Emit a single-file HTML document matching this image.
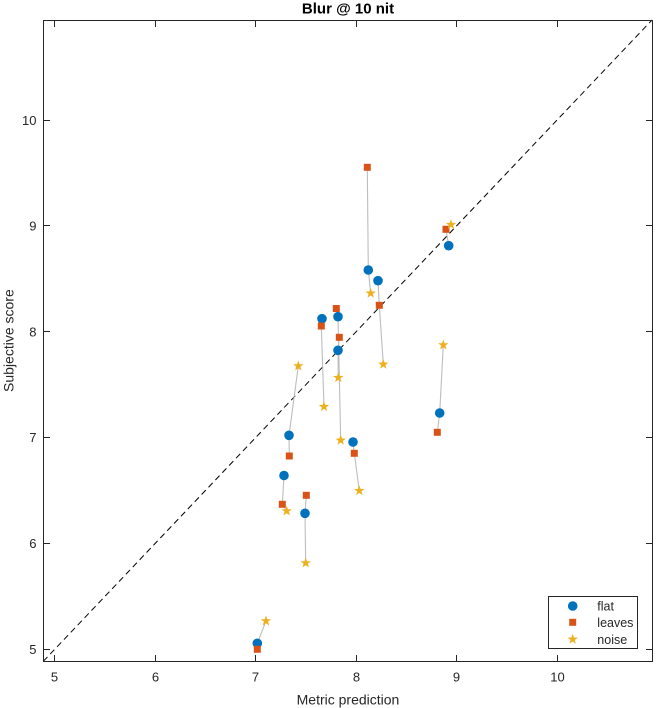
<!DOCTYPE html>
<html>
<head>
<meta charset="utf-8">
<style>
html,body{margin:0;padding:0;background:#fff;}
svg{display:block;}
text{font-family:"Liberation Sans",Arial,sans-serif;fill:#262626;}
</style>
</head>
<body>
<svg width="656" height="708" viewBox="0 0 656 708" xmlns="http://www.w3.org/2000/svg">
<rect x="0" y="0" width="656" height="708" fill="#fff"/>

<!-- dashed identity line -->
<line x1="43.3" y1="661.3" x2="652" y2="20" stroke="#000" stroke-width="1" stroke-dasharray="6,4"/>

<!-- connecting gray lines -->
<g stroke="#bdbdbd" stroke-width="1.1" fill="none">
<polyline points="322,318.7 321.3,326 324,406.7"/>
<polyline points="336.3,308.5 338,316.7 340.7,440.3"/>
<polyline points="339.3,337.3 338,350.3 338.3,377.7"/>
<polyline points="378,280.7 379.3,305.3 383.3,364.3"/>
<polyline points="298.3,366 289,435.3 289.3,456"/>
<polyline points="353,442 354.3,453.3 359.3,490.7"/>
<polyline points="284,475.5 282.3,504.3 286.7,511"/>
<polyline points="306.3,495.3 305,513.3 305.7,563"/>
<polyline points="266,621 257.3,643.3 257.3,649.3"/>
<polyline points="367.3,167.3 368.3,270 370.7,293.3"/>
<polyline points="451,224.7 446,229.3 448.7,245.7"/>
<polyline points="443.3,345 439.7,413 437.3,432.3"/>
</g>

<!-- flat -->
<g fill="#0072BD">
<circle cx="322" cy="318.7" r="4.8"/>
<circle cx="338" cy="316.7" r="4.8"/>
<circle cx="338" cy="350.3" r="4.8"/>
<circle cx="378" cy="280.7" r="4.8"/>
<circle cx="289" cy="435.3" r="4.8"/>
<circle cx="353" cy="442" r="4.8"/>
<circle cx="284" cy="475.5" r="4.8"/>
<circle cx="305" cy="513.3" r="4.8"/>
<circle cx="257.3" cy="643.3" r="4.8"/>
<circle cx="368.3" cy="270" r="4.8"/>
<circle cx="448.7" cy="245.7" r="4.8"/>
<circle cx="439.7" cy="413" r="4.8"/>
</g>

<!-- leaves -->
<g fill="#D95319">
<rect x="317.8" y="322.5" width="7" height="7"/>
<rect x="332.8" y="305" width="7" height="7"/>
<rect x="335.8" y="333.8" width="7" height="7"/>
<rect x="375.8" y="301.8" width="7" height="7"/>
<rect x="285.8" y="452.5" width="7" height="7"/>
<rect x="350.8" y="449.8" width="7" height="7"/>
<rect x="278.8" y="500.8" width="7" height="7"/>
<rect x="302.8" y="491.8" width="7" height="7"/>
<rect x="253.8" y="645.8" width="7" height="7"/>
<rect x="363.8" y="163.8" width="7" height="7"/>
<rect x="442.5" y="225.8" width="7" height="7"/>
<rect x="433.8" y="428.8" width="7" height="7"/>
</g>

<!-- noise -->
<g fill="#EDB120">
<polygon transform="translate(324,406.7)" points="0,-5.5 1.293,-1.78 5.231,-1.7 2.092,0.68 3.233,4.45 0,2.2 -3.233,4.45 -2.092,0.68 -5.231,-1.7 -1.293,-1.78"/>
<polygon transform="translate(340.7,440.3)" points="0,-5.5 1.293,-1.78 5.231,-1.7 2.092,0.68 3.233,4.45 0,2.2 -3.233,4.45 -2.092,0.68 -5.231,-1.7 -1.293,-1.78"/>
<polygon transform="translate(338.3,377.7)" points="0,-5.5 1.293,-1.78 5.231,-1.7 2.092,0.68 3.233,4.45 0,2.2 -3.233,4.45 -2.092,0.68 -5.231,-1.7 -1.293,-1.78"/>
<polygon transform="translate(383.3,364.3)" points="0,-5.5 1.293,-1.78 5.231,-1.7 2.092,0.68 3.233,4.45 0,2.2 -3.233,4.45 -2.092,0.68 -5.231,-1.7 -1.293,-1.78"/>
<polygon transform="translate(298.3,366)" points="0,-5.5 1.293,-1.78 5.231,-1.7 2.092,0.68 3.233,4.45 0,2.2 -3.233,4.45 -2.092,0.68 -5.231,-1.7 -1.293,-1.78"/>
<polygon transform="translate(359.3,490.7)" points="0,-5.5 1.293,-1.78 5.231,-1.7 2.092,0.68 3.233,4.45 0,2.2 -3.233,4.45 -2.092,0.68 -5.231,-1.7 -1.293,-1.78"/>
<polygon transform="translate(286.7,511)" points="0,-5.5 1.293,-1.78 5.231,-1.7 2.092,0.68 3.233,4.45 0,2.2 -3.233,4.45 -2.092,0.68 -5.231,-1.7 -1.293,-1.78"/>
<polygon transform="translate(305.7,563)" points="0,-5.5 1.293,-1.78 5.231,-1.7 2.092,0.68 3.233,4.45 0,2.2 -3.233,4.45 -2.092,0.68 -5.231,-1.7 -1.293,-1.78"/>
<polygon transform="translate(266,621)" points="0,-5.5 1.293,-1.78 5.231,-1.7 2.092,0.68 3.233,4.45 0,2.2 -3.233,4.45 -2.092,0.68 -5.231,-1.7 -1.293,-1.78"/>
<polygon transform="translate(370.7,293.3)" points="0,-5.5 1.293,-1.78 5.231,-1.7 2.092,0.68 3.233,4.45 0,2.2 -3.233,4.45 -2.092,0.68 -5.231,-1.7 -1.293,-1.78"/>
<polygon transform="translate(451,224.7)" points="0,-5.5 1.293,-1.78 5.231,-1.7 2.092,0.68 3.233,4.45 0,2.2 -3.233,4.45 -2.092,0.68 -5.231,-1.7 -1.293,-1.78"/>
<polygon transform="translate(443.3,345)" points="0,-5.5 1.293,-1.78 5.231,-1.7 2.092,0.68 3.233,4.45 0,2.2 -3.233,4.45 -2.092,0.68 -5.231,-1.7 -1.293,-1.78"/>
</g>

<!-- axes box -->
<rect x="43.5" y="20.5" width="609" height="641" fill="none" stroke="#262626" stroke-width="1"/>

<!-- ticks -->
<g stroke="#262626" stroke-width="1">
<line x1="54.5" y1="661" x2="54.5" y2="655"/><line x1="54.5" y1="21" x2="54.5" y2="27"/>
<line x1="155.5" y1="661" x2="155.5" y2="655"/><line x1="155.5" y1="21" x2="155.5" y2="27"/>
<line x1="255.5" y1="661" x2="255.5" y2="655"/><line x1="255.5" y1="21" x2="255.5" y2="27"/>
<line x1="356.5" y1="661" x2="356.5" y2="655"/><line x1="356.5" y1="21" x2="356.5" y2="27"/>
<line x1="456.5" y1="661" x2="456.5" y2="655"/><line x1="456.5" y1="21" x2="456.5" y2="27"/>
<line x1="557.5" y1="661" x2="557.5" y2="655"/><line x1="557.5" y1="21" x2="557.5" y2="27"/>

<line x1="44" y1="120.5" x2="50" y2="120.5"/><line x1="652" y1="120.5" x2="646" y2="120.5"/>
<line x1="44" y1="225.5" x2="50" y2="225.5"/><line x1="652" y1="225.5" x2="646" y2="225.5"/>
<line x1="44" y1="331.5" x2="50" y2="331.5"/><line x1="652" y1="331.5" x2="646" y2="331.5"/>
<line x1="44" y1="437.5" x2="50" y2="437.5"/><line x1="652" y1="437.5" x2="646" y2="437.5"/>
<line x1="44" y1="543.5" x2="50" y2="543.5"/><line x1="652" y1="543.5" x2="646" y2="543.5"/>
<line x1="44" y1="649.5" x2="50" y2="649.5"/><line x1="652" y1="649.5" x2="646" y2="649.5"/>
</g>

<!-- tick labels -->
<g font-size="13" text-anchor="middle">
<text x="54.5" y="681.5">5</text>
<text x="155.5" y="681.5">6</text>
<text x="255.5" y="681.5">7</text>
<text x="356.5" y="681.5">8</text>
<text x="456.5" y="681.5">9</text>
<text x="557.5" y="681.5">10</text>
</g>
<g font-size="13" text-anchor="end">
<text x="36.5" y="125">10</text>
<text x="36.5" y="230.5">9</text>
<text x="36.5" y="336.3">8</text>
<text x="36.5" y="442.2">7</text>
<text x="36.5" y="548">6</text>
<text x="36.5" y="654">5</text>
</g>

<!-- axis labels -->
<text x="348" y="704.5" font-size="14" text-anchor="middle">Metric prediction</text>
<text transform="translate(13.5,340.6) rotate(-90)" x="0" y="0" font-size="14" text-anchor="middle">Subjective score</text>

<!-- title -->
<text x="348" y="13.5" font-size="15" font-weight="bold" text-anchor="middle" style="fill:#000">Blur @ 10 nit</text>

<!-- legend -->
<rect x="548.5" y="596.5" width="89" height="52" fill="#fff" stroke="#262626" stroke-width="1"/>
<circle cx="572.7" cy="606" r="4.8" fill="#0072BD"/>
<rect x="569.2" y="618.8" width="7" height="7" fill="#D95319"/>
<polygon transform="translate(572.7,639.3)" fill="#EDB120" points="0,-5.5 1.293,-1.78 5.231,-1.7 2.092,0.68 3.233,4.45 0,2.2 -3.233,4.45 -2.092,0.68 -5.231,-1.7 -1.293,-1.78"/>
<g font-size="12.5">
<text x="597.3" y="610.5">flat</text>
<text x="597.3" y="627">leaves</text>
<text x="597.3" y="643.8">noise</text>
</g>
</svg>
</body>
</html>
